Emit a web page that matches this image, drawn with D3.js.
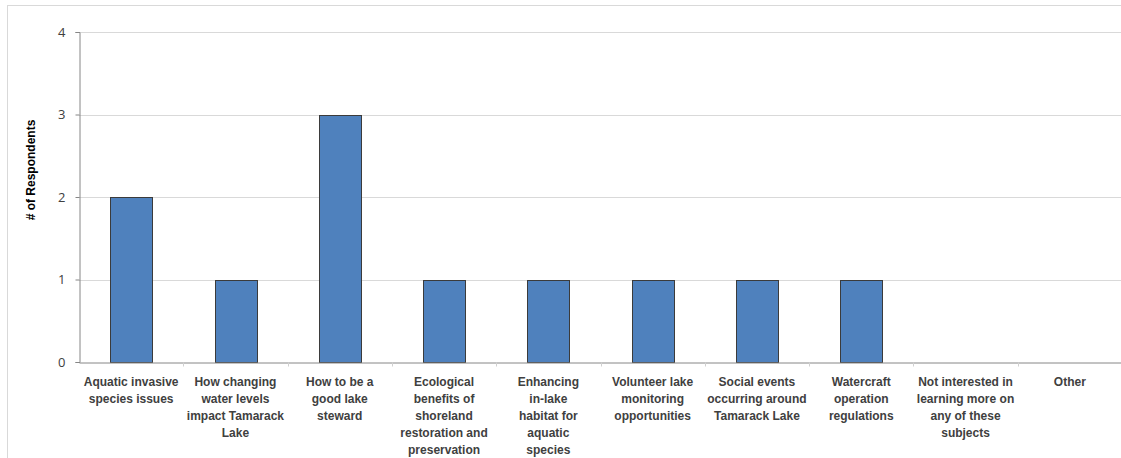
<!DOCTYPE html>
<html>
<head>
<meta charset="utf-8">
<script src="https://cdn.jsdelivr.net/npm/d3@7"></script>
<style>
  body { margin: 0; background: #fff; }
  svg { display: block; font-family: "Liberation Sans", Arial, sans-serif; }
</style>
</head>
<body>
<div id="chart"></div>
<script>
const categories = [
    "Aquatic invasive species issues",
    "How changing water levels impact Tamarack Lake",
    "How to be a good lake steward",
    "Ecological benefits of shoreland restoration and preservation",
    "Enhancing in-lake habitat for aquatic species",
    "Volunteer lake monitoring opportunities",
    "Social events occurring around Tamarack Lake",
    "Watercraft operation regulations",
    "Not interested in learning more on any of these subjects",
    "Other"
];
const labelLines = [
    ["Aquatic invasive", "species issues"],
    ["How changing", "water levels", "impact Tamarack", "Lake"],
    ["How to be a", "good lake", "steward"],
    ["Ecological", "benefits of", "shoreland", "restoration and", "preservation"],
    ["Enhancing", "in-lake", "habitat for", "aquatic", "species"],
    ["Volunteer lake", "monitoring", "opportunities"],
    ["Social events", "occurring around", "Tamarack Lake"],
    ["Watercraft", "operation", "regulations"],
    ["Not interested in", "learning more on", "any of these", "subjects"],
    ["Other"]
];
const respondents = [2, 1, 3, 1, 1, 1, 1, 1, 0, 0];
const yTicks = [0, 1, 2, 3, 4];

const W = 1121, H = 458;
const margin = { top: 32, right: -1, bottom: 96, left: 79 };

const svg = d3.select("#chart").append("svg")
    .attr("width", W)
    .attr("height", H);

// outer chart border
svg.append("rect")
    .attr("x", 7.5).attr("y", 5.5)
    .attr("width", W).attr("height", H)
    .attr("fill", "none")
    .attr("stroke", "#d9d9d9");

const x = d3.scaleBand()
    .domain(categories)
    .range([margin.left, W - margin.right])
    .padding(0);

const y = d3.scaleLinear()
    .domain([0, 4])
    .range([H - margin.bottom, margin.top]);

// gridlines
svg.append("g")
    .selectAll("line")
    .data(yTicks.filter(d => d > 0))
    .enter()
    .append("line")
    .attr("x1", margin.left)
    .attr("x2", W)
    .attr("y1", d => Math.round(y(d)) + 0.5)
    .attr("y2", d => Math.round(y(d)) + 0.5)
    .attr("stroke", "#d9d9d9");

// bars
const barW = x.bandwidth() * 0.4;
svg.selectAll(".bar")
    .data(respondents)
    .enter()
    .append("rect")
    .attr("class", "bar")
    .attr("x", (d, i) => Math.round(x(categories[i]) + (x.bandwidth() - barW) / 2) + 0.5)
    .attr("y", d => Math.round(y(d)) + 0.5)
    .attr("width", Math.round(barW))
    .attr("height", d => Math.round(y(0)) - Math.round(y(d)))
    .attr("fill", "#4f81bd")
    .attr("stroke", d => d > 0 ? "#3b3b3b" : "none")
    .attr("stroke-width", 1);

// y axis
const yAxis = d3.axisLeft(y)
    .tickValues(yTicks)
    .tickFormat(d3.format("d"))
    .tickSize(4)
    .tickPadding(10);

svg.append("g")
    .attr("transform", `translate(${margin.left + 0.5},0)`)
    .call(yAxis)
    .call(g => g.select(".domain").attr("stroke", "#868686"))
    .call(g => g.selectAll(".tick line").attr("stroke", "#868686"))
    .call(g => g.selectAll("text")
        .attr("fill", "#404040")
        .style("font-size", "13px")
        .style("font-family", "'Open Sans', sans-serif"));

// x axis
const xAxis = d3.axisBottom(x)
    .tickSize(0)
    .tickFormat("");

const xg = svg.append("g")
    .attr("transform", `translate(0,${Math.round(y(0)) + 0.5})`)
    .call(xAxis)
    .call(g => g.select(".domain").attr("stroke", "#868686"));

// band boundary ticks
xg.selectAll(".sep")
    .data(categories.slice(1))
    .enter()
    .append("line")
    .attr("class", "sep")
    .attr("x1", d => Math.round(x(d)) + 0.5)
    .attr("x2", d => Math.round(x(d)) + 0.5)
    .attr("y1", 0)
    .attr("y2", 4)
    .attr("stroke", "#d0d0d0");

// category labels
categories.forEach((c, i) => {
    const t = svg.append("text")
        .attr("x", x(c) + x.bandwidth() / 2)
        .attr("y", y(0) + 24)
        .attr("text-anchor", "middle")
        .attr("fill", "#404040")
        .style("font-size", "12px")
        .style("font-weight", "bold");
    labelLines[i].forEach((ln, j) => {
        t.append("tspan")
            .attr("x", x(c) + x.bandwidth() / 2)
            .attr("dy", j === 0 ? 0 : 17)
            .text(ln);
    });
});

// y title
svg.append("text")
    .attr("transform", "translate(35,170) rotate(-90)")
    .attr("text-anchor", "middle")
    .attr("fill", "#000")
    .style("font-size", "12px")
    .style("font-weight", "bold")
    .text("# of Respondents");
</script>
</body>
</html>
